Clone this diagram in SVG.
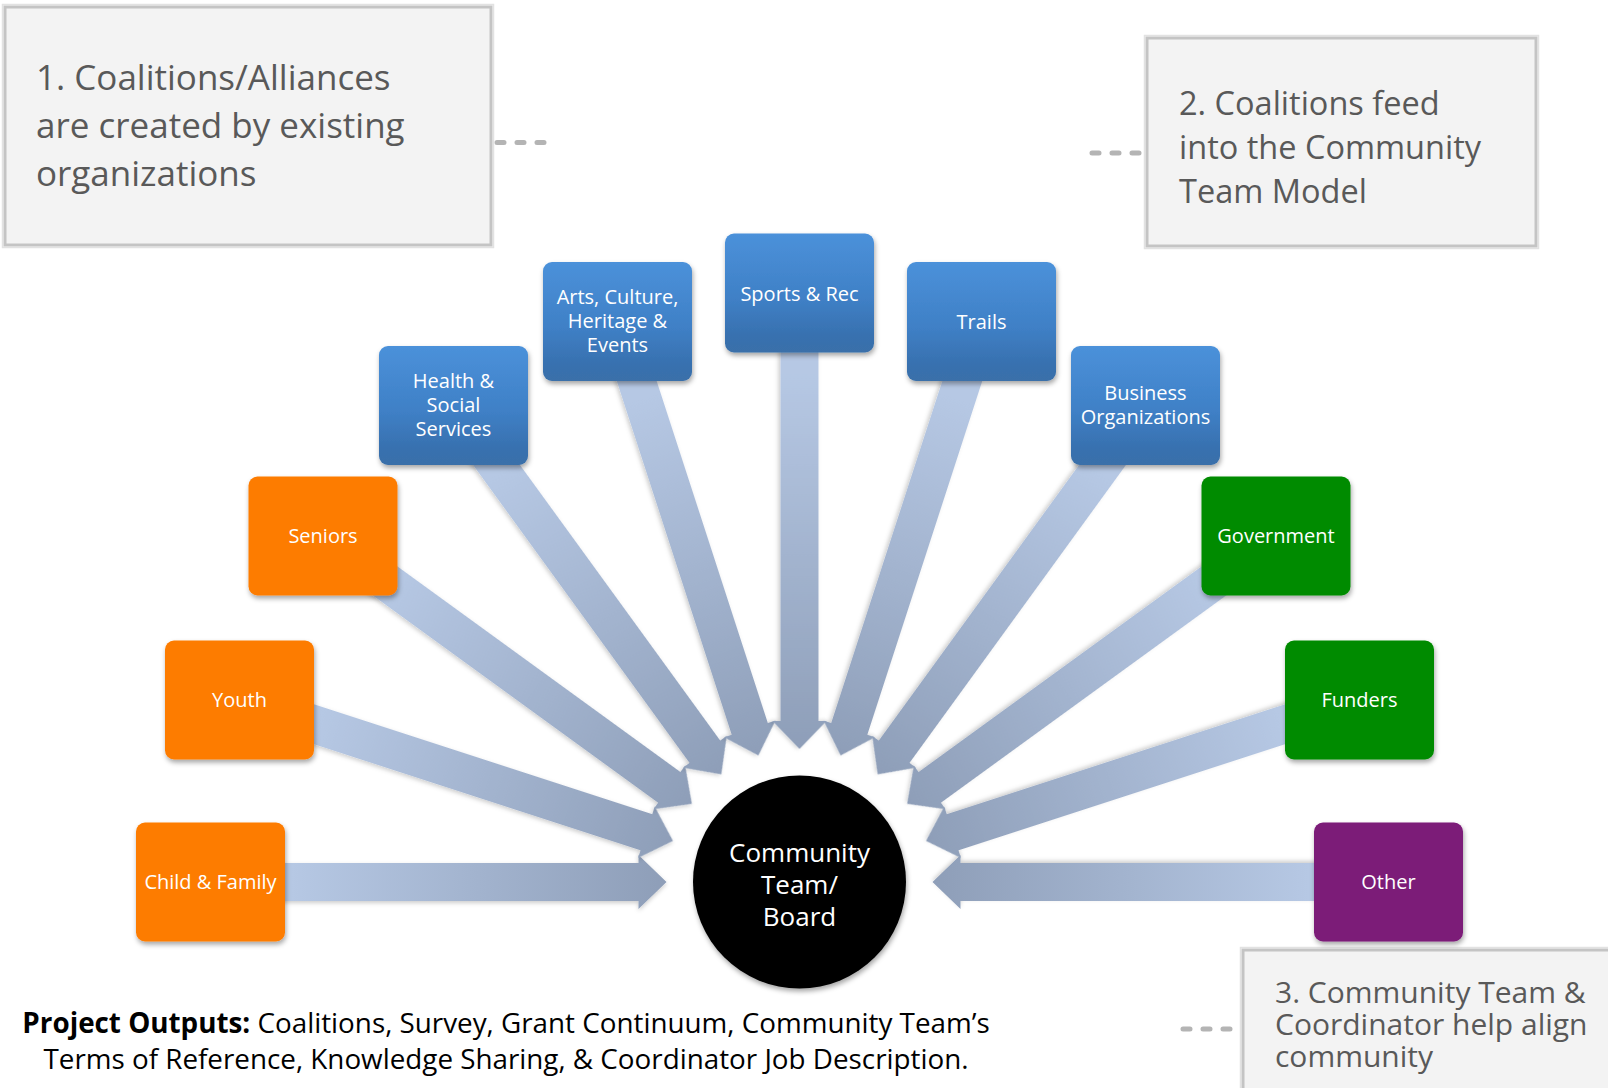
<svg xmlns="http://www.w3.org/2000/svg" width="1608" height="1088" viewBox="0 0 1608 1088">
  <defs>
    <style>
      .callout { fill: #f3f3f3; stroke: #c4c4c4; stroke-width: 3; }
      .callout-outer { fill: none; stroke: #e2e2e2; stroke-width: 1.5; }
      .callout-text { font-family: "Open Sans", "Liberation Sans", sans-serif; fill: #595959; }
      .dash { stroke: #b4b4b4; stroke-width: 5; stroke-linecap: round; stroke-dasharray: 7 13; fill: none; }
      .node-rect { filter: url(#shadow); }
      .node-text { font-family: "Open Sans", "Liberation Sans", sans-serif; font-size: 20px; fill: #ffffff; text-anchor: middle; }
      .blue { fill: url(#blueGrad); }
      .orange { fill: #fd7c03; }
      .green { fill: #008b00; }
      .purple { fill: #7b1a78; }
      .arrow { fill: url(#arrowGrad); filter: url(#ashadow); }
      .hub-text { font-family: "Open Sans", "Liberation Sans", sans-serif; font-size: 26px; fill: #ffffff; text-anchor: middle; }
      .foot { font-family: "Open Sans", "Liberation Sans", sans-serif; font-size: 27.8px; fill: #000000; text-anchor: middle; }
    </style>
    <linearGradient id="blueGrad" x1="0" y1="0" x2="0" y2="1">
      <stop offset="0" stop-color="#4b91da"/>
      <stop offset="0.55" stop-color="#3f80c6"/>
      <stop offset="0.85" stop-color="#3871b0"/>
      <stop offset="1" stop-color="#3a6fa9"/>
    </linearGradient>
    <linearGradient id="arrowGrad" gradientUnits="userSpaceOnUse" x1="80" y1="0" x2="456" y2="0">
      <stop offset="0" stop-color="#b6c8e4"/>
      <stop offset="1" stop-color="#8e9eb8"/>
    </linearGradient>
    <filter id="shadow" x="-10%" y="-10%" width="125%" height="130%">
      <feDropShadow dx="1" dy="3" stdDeviation="2.5" flood-color="#000" flood-opacity="0.35"/>
    </filter>
    <filter id="ashadow" x="-5%" y="-30%" width="110%" height="160%">
      <feDropShadow dx="0" dy="2" stdDeviation="2" flood-color="#000" flood-opacity="0.2"/>
    </filter>
    <path id="arr" d="M0,-19 L428,-19 L428,-27 L456,0 L428,27 L428,19 L0,19 Z"/>
  </defs>

  <rect width="1608" height="1088" fill="#ffffff"/>

  <!-- connectors -->
  <g id="connectors">
    <use href="#arr" class="arrow" transform="translate(799.5 882) rotate(0) translate(-589 0)"/>
    <use href="#arr" class="arrow" transform="translate(799.5 882) rotate(18) translate(-589 0)"/>
    <use href="#arr" class="arrow" transform="translate(799.5 882) rotate(36) translate(-589 0)"/>
    <use href="#arr" class="arrow" transform="translate(799.5 882) rotate(54) translate(-589 0)"/>
    <use href="#arr" class="arrow" transform="translate(799.5 882) rotate(72) translate(-589 0)"/>
    <use href="#arr" class="arrow" transform="translate(799.5 882) rotate(180) translate(-589 0)"/>
    <use href="#arr" class="arrow" transform="translate(799.5 882) rotate(162) translate(-589 0)"/>
    <use href="#arr" class="arrow" transform="translate(799.5 882) rotate(144) translate(-589 0)"/>
    <use href="#arr" class="arrow" transform="translate(799.5 882) rotate(126) translate(-589 0)"/>
    <use href="#arr" class="arrow" transform="translate(799.5 882) rotate(108) translate(-589 0)"/>
    <use href="#arr" class="arrow" transform="translate(799.5 882) rotate(90) translate(-589 0)"/>
    <line class="dash" x1="497" y1="142.5" x2="552" y2="142.5"/>
    <line class="dash" x1="1092" y1="153" x2="1140" y2="153"/>
    <line class="dash" x1="1183" y1="1029" x2="1236" y2="1029"/>
  </g>

  <!-- callouts -->
  <g id="callout1">
    <rect class="callout-outer" x="2.5" y="4.5" width="491" height="243"/>
    <rect class="callout" x="5" y="7" width="486" height="238"/>
    <text class="callout-text" font-size="35" x="36" y="90">1. Coalitions/Alliances</text>
    <text class="callout-text" font-size="35" x="36" y="138">are created by existing</text>
    <text class="callout-text" font-size="35" x="36" y="186">organizations</text>
  </g>
  <g id="callout2">
    <rect class="callout-outer" x="1144.5" y="35.5" width="394" height="213"/>
    <rect class="callout" x="1147" y="38" width="389" height="208"/>
    <text class="callout-text" font-size="32.5" x="1179" y="115">2. Coalitions feed</text>
    <text class="callout-text" font-size="32.5" x="1179" y="159">into the Community</text>
    <text class="callout-text" font-size="32.5" x="1179" y="203">Team Model</text>
  </g>
  <g id="callout3">
    <rect class="callout-outer" x="1240.5" y="947.5" width="380" height="150"/>
    <rect class="callout" x="1243" y="950" width="375" height="145"/>
    <text class="callout-text" font-size="30" x="1275" y="1003">3. Community Team &amp;</text>
    <text class="callout-text" font-size="30" x="1275" y="1035">Coordinator help align</text>
    <text class="callout-text" font-size="30" x="1275" y="1067">community</text>
  </g>

  <!-- nodes -->
  <g id="node-child-family">
    <rect class="node-rect orange" x="136" y="822.5" width="149" height="119" rx="9"/>
    <text class="node-text" x="210.5" y="889">Child &amp; Family</text>
  </g>
  <g id="node-youth">
    <rect class="node-rect orange" x="165" y="640.5" width="149" height="119" rx="9"/>
    <text class="node-text" x="239.5" y="707">Youth</text>
  </g>
  <g id="node-seniors">
    <rect class="node-rect orange" x="248.5" y="476.5" width="149" height="119" rx="9"/>
    <text class="node-text" x="323" y="542.5">Seniors</text>
  </g>
  <g id="node-health">
    <rect class="node-rect blue" x="379" y="346" width="149" height="119" rx="9"/>
    <text class="node-text" x="453.5" y="387.5">Health &amp;</text>
    <text class="node-text" x="453.5" y="411.5">Social</text>
    <text class="node-text" x="453.5" y="435.5">Services</text>
  </g>
  <g id="node-arts">
    <rect class="node-rect blue" x="543" y="262" width="149" height="119" rx="9"/>
    <text class="node-text" x="617.5" y="304">Arts, Culture,</text>
    <text class="node-text" x="617.5" y="328">Heritage &amp;</text>
    <text class="node-text" x="617.5" y="352">Events</text>
  </g>
  <g id="node-sports">
    <rect class="node-rect blue" x="725" y="233.5" width="149" height="119" rx="9"/>
    <text class="node-text" x="799.5" y="301">Sports &amp; Rec</text>
  </g>
  <g id="node-trails">
    <rect class="node-rect blue" x="907" y="262" width="149" height="119" rx="9"/>
    <text class="node-text" x="981.5" y="329">Trails</text>
  </g>
  <g id="node-business">
    <rect class="node-rect blue" x="1071" y="346" width="149" height="119" rx="9"/>
    <text class="node-text" x="1145.5" y="400">Business</text>
    <text class="node-text" x="1145.5" y="424">Organizations</text>
  </g>
  <g id="node-government">
    <rect class="node-rect green" x="1201.5" y="476.5" width="149" height="119" rx="9"/>
    <text class="node-text" x="1276" y="542.5">Government</text>
  </g>
  <g id="node-funders">
    <rect class="node-rect green" x="1285" y="640.5" width="149" height="119" rx="9"/>
    <text class="node-text" x="1359.5" y="707">Funders</text>
  </g>
  <g id="node-other">
    <rect class="node-rect purple" x="1314" y="822.5" width="149" height="119" rx="9"/>
    <text class="node-text" x="1388.5" y="889">Other</text>
  </g>

  <!-- hub -->
  <g id="hub">
    <circle cx="799.5" cy="882" r="106.5" fill="#000000" filter="url(#shadow)"/>
    <text class="hub-text" x="799.5" y="862">Community</text>
    <text class="hub-text" x="799.5" y="894">Team/</text>
    <text class="hub-text" x="799.5" y="926">Board</text>
  </g>

  <!-- footer -->
  <g id="footer">
    <text class="foot" x="506" y="1033"><tspan font-weight="bold">Project Outputs:</tspan> Coalitions, Survey, Grant Continuum, Community Team’s</text>
    <text class="foot" x="506" y="1069">Terms of Reference, Knowledge Sharing, &amp; Coordinator Job Description.</text>
  </g>
</svg>
